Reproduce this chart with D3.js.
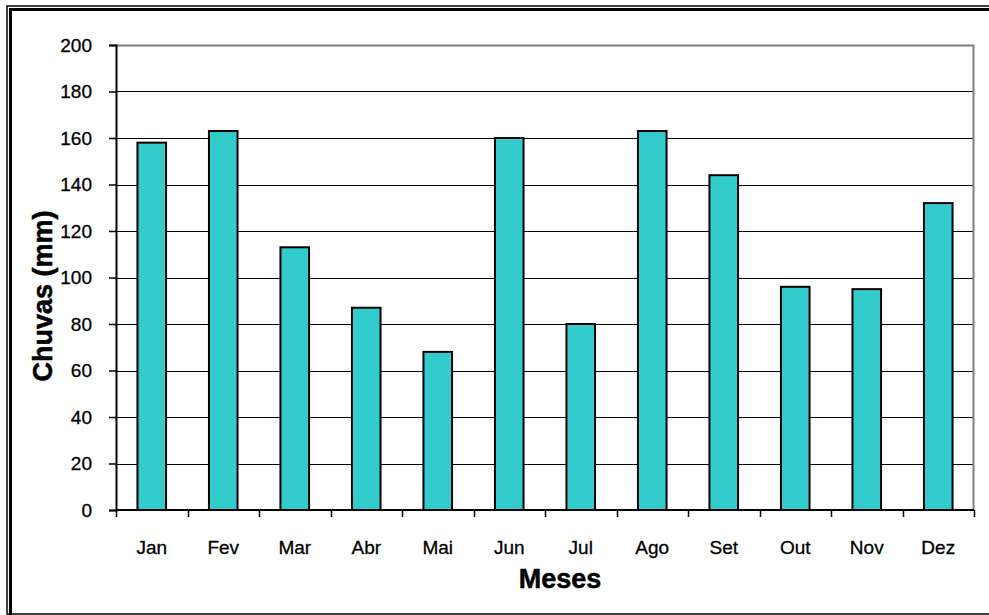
<!DOCTYPE html>
<html>
<head>
<meta charset="utf-8">
<script src="https://cdn.jsdelivr.net/npm/d3@7"></script>
<style>
  html, body { margin: 0; padding: 0; background: #fff; }
  svg { display: block; }
  text { font-family: "Liberation Sans", Arial, sans-serif; }
</style>
</head>
<body>
<svg id="chart" width="989" height="615"></svg>
<script>
// Monthly rainfall (mm)
const months = ["Jan", "Fev", "Mar", "Abr", "Mai", "Jun", "Jul", "Ago", "Set", "Out", "Nov", "Dez"];
const rainfall = [158, 163, 113, 87, 68, 160, 80, 163, 144, 96, 95, 132];
const yTicks = [0, 20, 40, 60, 80, 100, 120, 140, 160, 180, 200];

const svg = d3.select("#chart");
const plot = { left: 116, right: 974, top: 45, bottom: 510 };

// Outer double frame
svg.append("rect").attr("x", 7).attr("y", 6).attr("width", 1000).attr("height", 608)
  .attr("fill", "none").attr("stroke", "#000").attr("stroke-width", 1.5);
svg.append("rect").attr("x", 10.5).attr("y", 9.5).attr("width", 1000).attr("height", 700)
  .attr("fill", "none").attr("stroke", "#000").attr("stroke-width", 3);

const x = d3.scaleBand().domain(months).range([plot.left, plot.right]).paddingInner(0.6).paddingOuter(0.3);
const xb = d3.scaleBand().domain(months).range([plot.left, plot.right]);
const y = d3.scaleLinear().domain([0, 200]).range([plot.bottom, plot.top]);

// Horizontal gridlines
svg.append("g").selectAll("line").data(yTicks.filter(t => t > 0 && t < 200)).join("line")
  .attr("x1", plot.left).attr("x2", plot.right)
  .attr("y1", d => Math.round(y(d)) + 0.5).attr("y2", d => Math.round(y(d)) + 0.5)
  .attr("stroke", "#000").attr("stroke-width", 1);

// Plot area border (top and right)
svg.append("path")
  .attr("d", `M${plot.left},${plot.top + 0.5}H${plot.right - 0.5}V${plot.bottom}`)
  .attr("fill", "none").attr("stroke", "#808080").attr("stroke-width", 2);

// Bars
svg.append("g").selectAll("rect").data(months).join("rect")
  .attr("x", d => x(d)).attr("width", x.bandwidth())
  .attr("y", (d, i) => y(rainfall[i])).attr("height", (d, i) => plot.bottom - y(rainfall[i]))
  .attr("fill", "#33CCCC").attr("stroke", "#000").attr("stroke-width", 2);

// Y axis
const yAxis = d3.axisLeft(y).tickValues(yTicks).tickSize(7).tickPadding(17);
const gy = svg.append("g").attr("transform", `translate(${plot.left},0)`).call(yAxis);
gy.select(".domain").attr("stroke", "#000").attr("stroke-width", 2);
gy.selectAll(".tick line").attr("stroke", "#000").attr("stroke-width", 1.5);
gy.selectAll(".tick text").attr("font-size", 19).attr("fill", "#000")
  .attr("stroke", "#000").attr("stroke-width", 0.3)
  .attr("font-family", "'Liberation Sans', Arial, sans-serif");

// X axis line with ticks at category boundaries
svg.append("line").attr("x1", plot.left).attr("x2", plot.right)
  .attr("y1", plot.bottom).attr("y2", plot.bottom).attr("stroke", "#000").attr("stroke-width", 2);
const bounds = months.map(m => xb(m)).concat([plot.right]);
svg.append("g").selectAll("line").data(bounds).join("line")
  .attr("x1", d => Math.round(d) + 0.5).attr("x2", d => Math.round(d) + 0.5)
  .attr("y1", plot.bottom).attr("y2", plot.bottom + 7)
  .attr("stroke", "#000").attr("stroke-width", 1.5);

svg.append("g").selectAll("text").data(months).join("text")
  .attr("x", d => xb(d) + xb.bandwidth() / 2).attr("y", 554)
  .attr("text-anchor", "middle").attr("font-size", 19).attr("fill", "#000")
  .attr("stroke", "#000").attr("stroke-width", 0.3)
  .text(d => d);

// Axis titles
svg.append("text").attr("x", 560).attr("y", 588).attr("text-anchor", "middle")
  .attr("font-size", 27).attr("font-weight", "bold")
  .attr("stroke", "#000").attr("stroke-width", 0.5).text("Meses");
svg.append("text").attr("transform", "translate(52,296) rotate(-90)")
  .attr("text-anchor", "middle").attr("font-size", 27).attr("font-weight", "bold")
  .attr("stroke", "#000").attr("stroke-width", 0.5)
  .text("Chuvas (mm)");
</script>
</body>
</html>
